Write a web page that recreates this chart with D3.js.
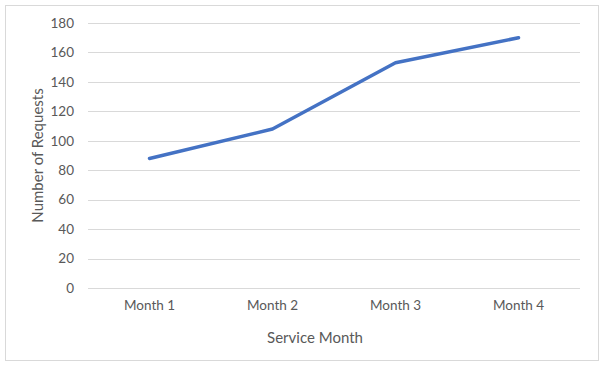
<!DOCTYPE html>
<html>
  <head>
    <meta charset="utf-8">
    <script src="https://d3js.org/d3.v7.min.js"></script>
    <style>
      body { margin: 0; background: #fff; }
      text { font-family: Lato, "Open Sans", sans-serif; fill: #595959; }
    </style>
  </head>
  <body>
    <svg id="chart" width="604" height="367"></svg>
    <script>
      const months = ['Month 1', 'Month 2', 'Month 3', 'Month 4']
      const requests = [88, 108, 153, 170]
      const yTicks = [0, 20, 40, 60, 80, 100, 120, 140, 160, 180]

      const width = 604, height = 367
      const margin = { top: 23, right: 24, bottom: 79, left: 88 }

      const svg = d3.select('#chart')

      // outer frame
      svg.append('rect')
        .attr('x', 5.5).attr('y', 5.5)
        .attr('width', 593).attr('height', 355)
        .attr('fill', 'none')
        .attr('stroke', '#d9d9d9')

      const x = d3.scaleBand(months, [margin.left, width - margin.right])
      const y = d3.scaleLinear([0, 180], [height - margin.bottom, margin.top])

      // gridlines
      svg.append('g')
        .selectAll('line')
        .data(yTicks)
        .join('line')
          .attr('x1', margin.left)
          .attr('x2', width - margin.right)
          .attr('y1', d => Math.round(y(d)) + 0.5)
          .attr('y2', d => Math.round(y(d)) + 0.5)
          .attr('stroke', '#d9d9d9')
          .attr('stroke-width', 1)

      const yAxis = svg.append('g')
        .attr('transform', `translate(${margin.left - 14},0)`)
        .call(d3.axisLeft(y).tickValues(yTicks).tickSize(0).tickPadding(0))
      yAxis.select('.domain').remove()
      yAxis.selectAll('text')
        .style('font-size', '13.5px')
        .style('font-family', 'Lato, "Open Sans", sans-serif')
        .attr('fill', '#595959')

      const xAxis = svg.append('g')
        .attr('transform', `translate(0,${height - margin.bottom})`)
        .call(d3.axisBottom(x).tickSize(0).tickPadding(12))
      xAxis.select('.domain').remove()
      xAxis.selectAll('text')
        .style('font-size', '13.5px')
        .style('font-family', 'Lato, "Open Sans", sans-serif')
        .attr('fill', '#595959')

      const line = d3.line()
        .x((d, i) => x(months[i]) + x.bandwidth() / 2)
        .y(d => y(d))

      svg.append('path')
        .datum(requests)
        .attr('d', line)
        .attr('fill', 'none')
        .attr('stroke', '#4472c4')
        .attr('stroke-width', 3.5)
        .attr('stroke-linecap', 'round')
        .attr('stroke-linejoin', 'round')

      // axis titles
      svg.append('text')
        .attr('x', 315)
        .attr('y', 343)
        .attr('text-anchor', 'middle')
        .style('font-size', '15px')
        .text('Service Month')

      svg.append('text')
        .attr('transform', `translate(43,${(margin.top + height - margin.bottom) / 2}) rotate(-90)`)
        .attr('text-anchor', 'middle')
        .style('font-size', '15px')
        .text('Number of Requests')
    </script>
  </body>
</html>
